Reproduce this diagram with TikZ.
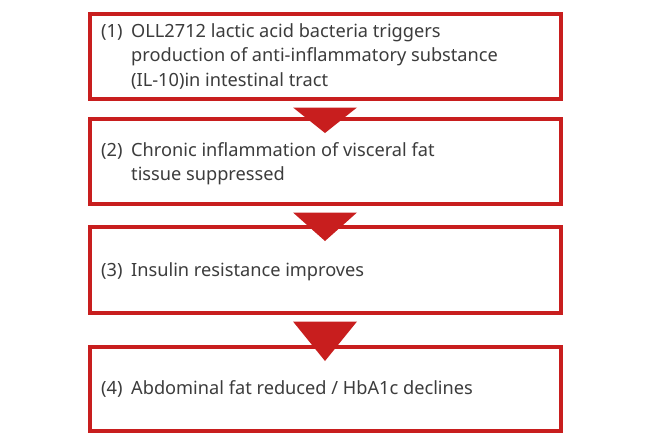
\documentclass[tikz,border=0pt]{standalone}
\usepackage{fontspec}
\setmainfont{Noto Sans}
\usetikzlibrary{calc}
\definecolor{boxred}{HTML}{C81E1E}
\definecolor{txtgray}{HTML}{3C3C3C}
\tikzset{
  stepbox/.style={draw=boxred, line width=3.5pt, fill=white, minimum width=471pt, inner sep=0pt, anchor=north},
  steptext/.style={anchor=base west, inner sep=0pt, text=txtgray, font=\fontsize{18.2}{24.5}\selectfont},
  downarrow/.style={fill=boxred, draw=none}
}
\newcommand{\numlabel}[1]{\makebox[30pt][l]{#1}}
\begin{document}
\begin{tikzpicture}[x=1pt,y=-1pt]
\useasboundingbox (0,0) rectangle (650,440);
\node[stepbox, minimum height=85pt] (b1) at (325.5,12) {};
\node[stepbox, minimum height=85pt] (b2) at (325.5,117) {};
\node[stepbox, minimum height=86pt] (b3) at (325.5,225) {};
\node[stepbox, minimum height=84pt] (b4) at (325.5,345) {};
\node[steptext] (t1) at (101,37) {\numlabel{(1)}\begin{tabular}[t]{@{}l@{}}OLL2712 lactic acid bacteria triggers\\production of anti-inflammatory substance\\(IL-10)in intestinal tract\end{tabular}};
\node[steptext] (t2) at (101,156) {\numlabel{(2)}\begin{tabular}[t]{@{}l@{}}Chronic inflammation of visceral fat\\tissue suppressed\end{tabular}};
\node[steptext] (t3) at (101,276) {\numlabel{(3)}Insulin resistance improves};
\node[steptext] (t4) at (101,394) {\numlabel{(4)}Abdominal fat reduced / HbA1c declines};
\foreach \a/\b in {b1/b2,b2/b3,b3/b4}{
  \coordinate (top-\a) at ($(\a.south)+(-0.5,7)$);
  \coordinate (tip-\a) at ($(\b.north)+(-0.5,16)$);
  \fill[downarrow] ($(top-\a)+(-32,0)$) -- ($(top-\a)+(32,0)$) -- (tip-\a) -- cycle;
}
\end{tikzpicture}
\end{document}
